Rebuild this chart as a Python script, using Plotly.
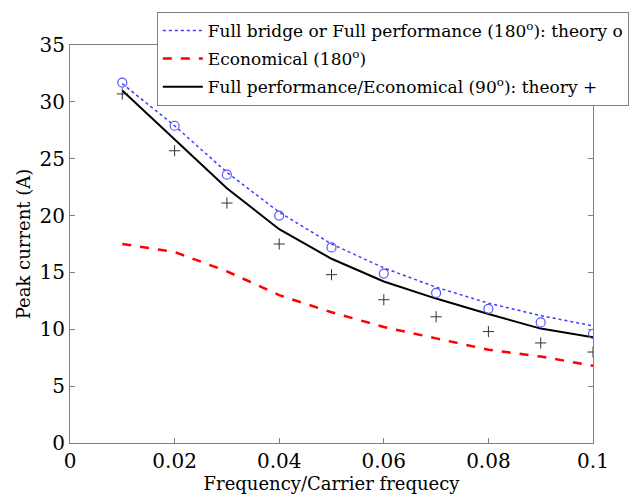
import plotly.graph_objects as go

x = [0.01, 0.02, 0.03, 0.04, 0.05, 0.06, 0.07, 0.08, 0.09, 0.1]
full_bridge_line = [31.6, 27.9, 23.8, 20.3, 17.5, 15.4, 13.7, 12.3, 11.2, 10.3]
full_bridge_theory = [31.7, 27.9, 23.6, 20.0, 17.2, 14.9, 13.2, 11.8, 10.6, 9.6]
economical_180 = [17.5, 16.8, 15.1, 13.0, 11.5, 10.2, 9.2, 8.2, 7.6, 6.8]
fp_econ_90_line = [31.0, 26.7, 22.4, 18.8, 16.2, 14.2, 12.7, 11.35, 10.06, 9.3]
fp_econ_90_theory = [30.7, 25.7, 21.1, 17.5, 14.8, 12.6, 11.1, 9.8, 8.8, 8.0]

xticks = [0, 0.02, 0.04, 0.06, 0.08, 0.1]
xtick_text = ["0", "0.02", "0.04", "0.06", "0.08", "0.1"]
yticks = [0, 5, 10, 15, 20, 25, 30, 35]

font = "DejaVu Serif"

fig = go.Figure()
fig.add_trace(go.Scatter(x=x, y=full_bridge_line, mode="lines", legendgroup="a",
                         line=dict(color="#3a3aff", width=1.5, dash="dot"),
                         name="Full bridge or Full performance (180<sup>o</sup>): theory o"))
fig.add_trace(go.Scatter(x=x, y=economical_180, mode="lines", legendgroup="b",
                         line=dict(color="#ff0000", width=2.5, dash="dash"),
                         name="Economical (180<sup>o</sup>)"))
fig.add_trace(go.Scatter(x=x, y=fp_econ_90_line, mode="lines", legendgroup="c",
                         line=dict(color="#000000", width=2),
                         name="Full performance/Economical (90<sup>o</sup>): theory +"))
fig.add_trace(go.Scatter(x=x, y=full_bridge_theory, mode="markers", showlegend=False,
                         marker=dict(symbol="circle-open", size=9, color="#5555ff",
                                     line=dict(width=1.2, color="#5555ff"))))
fig.add_trace(go.Scatter(x=x, y=fp_econ_90_theory, mode="markers", showlegend=False,
                         marker=dict(symbol="cross-thin", size=8, color="#333333",
                                     line=dict(width=1.0, color="#333333"))))

axis_common = dict(showgrid=False, zeroline=False, showline=True, linecolor="#808080",
                   linewidth=1, mirror="ticks", ticks="inside", ticklen=5,
                   tickcolor="#808080", tickfont=dict(family=font, size=20, color="black"))

fig.update_layout(
    width=643, height=502,
    margin=dict(l=70, r=50, t=38, b=55),
    paper_bgcolor="white", plot_bgcolor="white",
    font=dict(family=font, color="black"),
    xaxis=dict(range=[0, 0.1], tickvals=xticks, ticktext=xtick_text,
               title=dict(text="Frequency/Carrier frequecy", font=dict(family=font, size=18), standoff=4),
               **axis_common),
    yaxis=dict(range=[0, 35], tickvals=yticks,
               title=dict(text="Peak current (A)", font=dict(family=font, size=18), standoff=4),
               **axis_common),
    legend=dict(x=0.166, y=1.083, xanchor="left", yanchor="top",
                bgcolor="white", bordercolor="#808080", borderwidth=1,
                font=dict(family=font, size=17, color="black"),
                tracegroupgap=3, itemwidth=40),
)

fig.write_html("out.html")
